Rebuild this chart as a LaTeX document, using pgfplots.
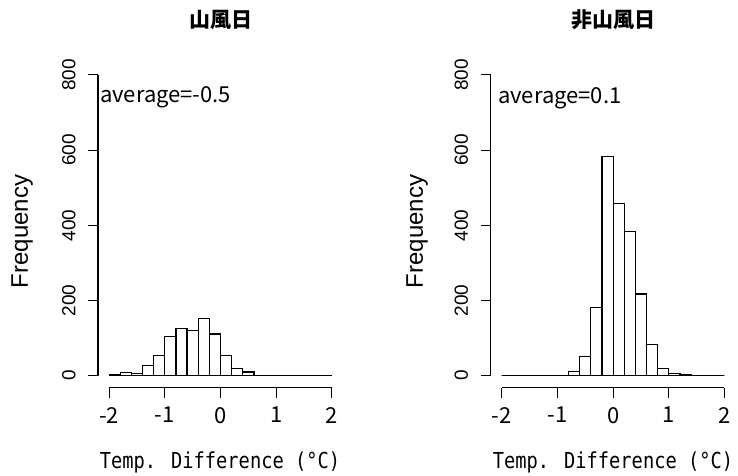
\documentclass[border=0pt]{standalone}
\usepackage{pgfplots}
\pgfplotsset{compat=1.18}
\usepackage{fontspec}
\setmainfont{Liberation Sans}
\newfontfamily\gothic[FakeStretch=0.85]{DejaVu Sans Mono}
\newfontfamily\cjk{Noto Sans CJK JP}

% bin left edges (width 0.2) and counts; last row closes the interval
\pgfplotstableread{
x cnt
-2.0 2
-1.8 9
-1.6 6
-1.4 28
-1.2 54
-1.0 105
-0.8 126
-0.6 121
-0.4 151
-0.2 111
0.0 54
0.2 20
0.4 10
0.6 1
0.8 0
1.0 0
1.2 0
1.4 0
1.6 0
1.8 0
2.0 0
}\sanfu

\pgfplotstableread{
x cnt
-2.0 0
-1.8 0
-1.6 0
-1.4 0
-1.2 0
-1.0 1
-0.8 11
-0.6 50
-0.4 182
-0.2 582
0.0 458
0.2 383
0.4 217
0.6 82
0.8 20
1.0 5
1.2 4
1.4 0
1.6 0
1.8 0
2.0 0
}\nonsanfu

\pgfplotsset{
  histo/.style={
    scale only axis, width=245bp, height=324.8bp,
    xmin=-2.2, xmax=2.2, ymin=-32, ymax=832,
    axis x line*=bottom, axis y line*=left,
    axis line style={draw=none},
    tick align=outside, major tick length=10bp,
    tick style={black, line width=1bp},
    xtick={-2,-1,0,1,2}, xticklabels={-2,-1,0,1,2},
    ytick={0,200,400,600,800}, yticklabels={0,200,400,600,800},
    xticklabel shift=6bp, yticklabel shift=9bp,
    xticklabel style={font=\cjk\fontsize{22bp}{24bp}\selectfont},
    yticklabel style={rotate=90, anchor=south, font=\fontsize{19bp}{21bp}\selectfont},
    clip=false,
  },
  bars/.style={ybar interval, fill=white, draw=black, line width=1.2bp},
}

\begin{document}
\begin{tikzpicture}[x=1bp,y=1bp]
\useasboundingbox (0,0) rectangle (738,476);

\begin{axis}[histo, at={(98bp,88.3bp)}, anchor=south west]
\addplot[bars] table[x=x, y=cnt] {\sanfu};
\draw[line width=1.1bp] (axis cs:-2,-32) -- (axis cs:2,-32);
\draw[line width=1.1bp] (axis cs:-2.2,0) -- (axis cs:-2.2,800);
\end{axis}

\begin{axis}[histo, at={(490.6bp,88.3bp)}, anchor=south west]
\addplot[bars] table[x=x, y=cnt] {\nonsanfu};
\draw[line width=1.1bp] (axis cs:-2,-32) -- (axis cs:2,-32);
\draw[line width=1.1bp] (axis cs:-2.2,0) -- (axis cs:-2.2,800);
\end{axis}

% titles
\node[font=\cjk\bfseries\fontsize{21bp}{23bp}\selectfont] at (220.5,456) {山風日};
\node[font=\cjk\bfseries\fontsize{21bp}{23bp}\selectfont] at (613,456) {非山風日};
% y labels
\node[rotate=90, font=\fontsize{24bp}{26bp}\selectfont] at (22,244.5) {Frequency};
\node[rotate=90, font=\fontsize{24bp}{26bp}\selectfont] at (417,244.5) {Frequency};
% x labels
\node[font=\gothic\fontsize{22bp}{24bp}\selectfont] at (220,14) {Temp. Difference (°C)};
\node[font=\gothic\fontsize{22bp}{24bp}\selectfont] at (613,14) {Temp. Difference (°C)};
% averages
\node[anchor=west, inner sep=0, font=\cjk\fontsize{22bp}{24bp}\selectfont] at (100,379) {average=-0.5};
\node[anchor=west, inner sep=0, font=\cjk\fontsize{22bp}{24bp}\selectfont] at (498,378) {average=0.1};
\end{tikzpicture}
\end{document}
